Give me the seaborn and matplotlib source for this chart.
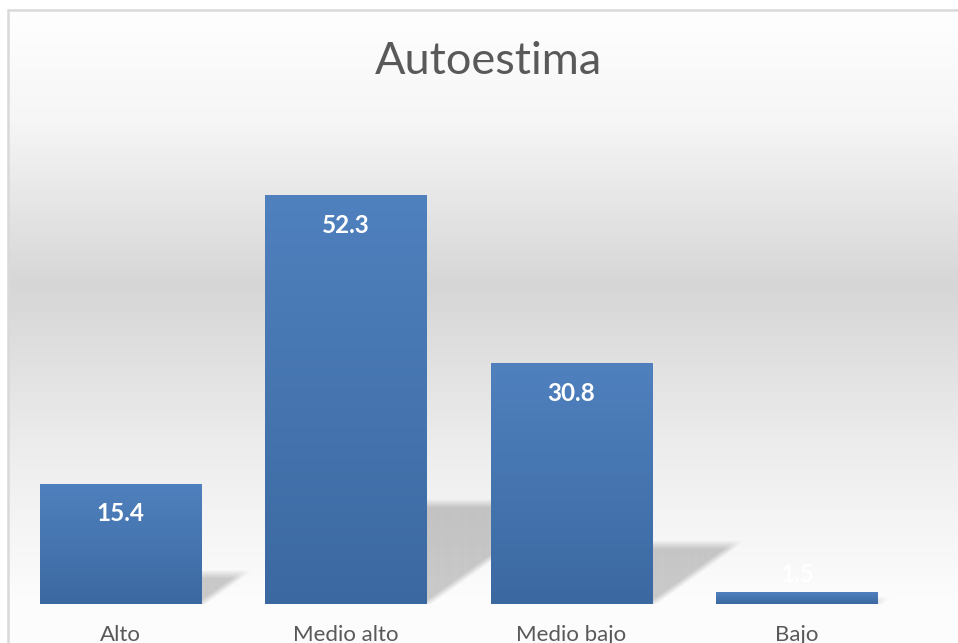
import numpy as np
import matplotlib
matplotlib.use("Agg")
import matplotlib.pyplot as plt
import seaborn as sns

# datos del grafico
categorias = ["Alto", "Medio alto", "Medio bajo", "Bajo"]
porcentajes = [15.4, 52.3, 30.8, 1.5]
titulo = "Autoestima"

W, H = 958, 643
sns.set_style("white")
plt.rcParams["font.family"] = ["Lato", "DejaVu Sans"]

fig = plt.figure(figsize=(W / 100, H / 100), dpi=100)

# fondo del area del grafico (degradado vertical estilo Excel)
bg = fig.add_axes([0, 0, 1, 1], zorder=0)
bg.set_axis_off()
py = np.arange(H)
gris = np.interp(py, [10, 120, 285, 450, 600], [0.998, 0.965, 0.84, 0.93, 0.99])
grad = np.repeat(gris[:, None], W, axis=1)
grad[:10, :] = 1.0
grad[:, :8] = 1.0
bg.imshow(np.dstack([grad] * 3), extent=(0, W, H, 0), aspect="auto", interpolation="bilinear")
bg.plot([8, 8], [10, H], color="#d9d9d9", lw=1.8)
bg.plot([8, W], [10, 10], color="#d9d9d9", lw=1.8)
bg.set_xlim(0, W)
bg.set_ylim(H, 0)

# area de trazado
x0p, x1p, y0p, ymax = 7.75, 909.75, 604, 60
px_y = 7.82  # pixeles por unidad
ax = fig.add_axes([x0p / W, (H - y0p) / H, (x1p - x0p) / W, ymax * px_y / H], zorder=1)
ax.patch.set_alpha(0)

sns.barplot(x=categorias, y=porcentajes, color="#4f81bd", width=0.714, saturation=1,
            linewidth=0, edgecolor="none", ax=ax, zorder=3)
ax.set_xlim(-0.5, len(categorias) - 0.5)
ax.set_ylim(0, ymax)

px_x = (x1p - x0p) / len(categorias)

# sombras en perspectiva detras de cada barra
nx, ny = 900, 470
gx = np.linspace(-0.5, len(categorias) - 0.5, nx)
gy = np.linspace(0, ymax, ny)
XX, YY = np.meshgrid(gx, gy)
alpha = np.zeros_like(XX)
for p in ax.patches:
    b0, b1, h = p.get_x(), p.get_x() + p.get_width(), p.get_height()
    hs = 0.245 * h
    k = 1.4 * px_y / px_x  # desplazamiento horizontal por unidad de altura
    u = XX - k * YY
    blur_y = 9 / px_y
    blur_x = 11 / px_x
    a = np.clip((hs - YY) / blur_y + 0.5, 0, 1) * np.clip((b1 - u) / blur_x + 0.5, 0, 1)
    a *= (u > b0) & (YY >= 0)
    alpha = np.maximum(alpha, 0.2 * a)
sombra = np.zeros((ny, nx, 4))
sombra[..., 3] = alpha
ax.imshow(sombra, extent=(gx[0], gx[-1], 0, ymax), origin="lower", aspect="auto", zorder=1,
          interpolation="bilinear")
ax.set_xlim(-0.5, len(categorias) - 0.5)
ax.set_ylim(0, ymax)

# degradado en las barras
top_c = np.array([0.31, 0.505, 0.745])
bot_c = np.array([0.235, 0.41, 0.63])
for p in ax.patches:
    b0, b1, h = p.get_x(), p.get_x() + p.get_width(), p.get_height()
    t = np.linspace(0, 1, 64)[:, None]
    img = (bot_c * (1 - t) + top_c * t)[:, None, :]
    im = ax.imshow(img, extent=(b0, b1, 0, h), origin="lower", aspect="auto", zorder=4,
                   interpolation="bilinear")
    im.set_clip_path(p)

# etiquetas de datos
for i, v in enumerate(porcentajes):
    y = max(v - 30 / px_y, 29 / px_y)
    ax.text(i, y, f"{v}", ha="center", va="center", color="white",
            fontsize=17.5, fontweight="bold", zorder=5)

sns.despine(ax=ax, left=True, bottom=True)
ax.set_yticks([])
ax.tick_params(axis="x", length=0, pad=15, labelsize=16, labelcolor="#595959")
ax.set_xlabel("")
ax.set_ylabel("")

fig.text(488 / W, 1 - 62 / H, titulo, ha="center", va="center", fontsize=32.5, color="#595959")

fig.savefig("out.png", dpi=100)
